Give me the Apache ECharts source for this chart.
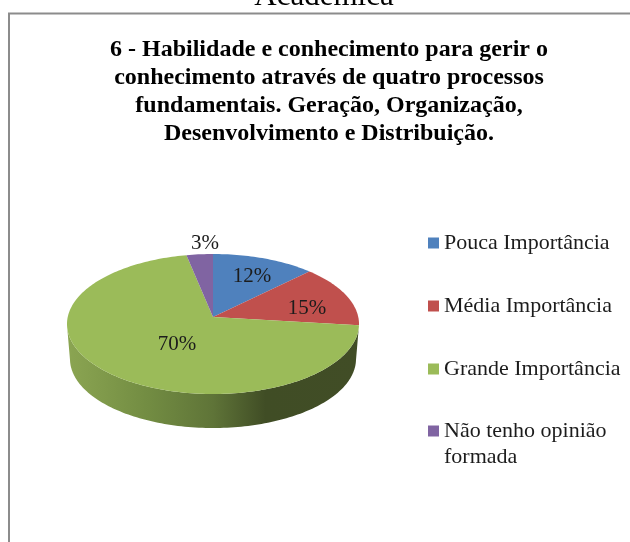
<!DOCTYPE html>
<html>
<head>
<meta charset="utf-8">
<style>html,body{margin:0;padding:0;background:#fff}#c{width:630px;height:542px}</style>
<script src="https://cdn.jsdelivr.net/npm/echarts@6/dist/echarts.min.js"></script>
</head>
<body>
<div id="c"></div>
<script>
const categories = ['Pouca Importância', 'Média Importância', 'Grande Importância', 'Não tenho opinião formada'];
const values = [12, 15, 70, 3];
const colors = ['#4f81bd', '#c0504d', '#9bbb59', '#8064a2'];
const titleLines = ['6 - Habilidade e conhecimento para gerir o', 'conhecimento através de quatro processos', 'fundamentais. Geração, Organização,', 'Desenvolvimento e Distribuição.'];
const clippedHeading = 'Acadêmica';

// Pie geometry (tilted disc)
const apex = { x: 213, y: 317 };
const topE = { cx: 213, cy: 324, rx: 146, ry: 70 };
const botE = { cx: 213, cy: 359, rx: 143, ry: 69 };
const aspect = 2.25;
const labelAnchors = [[252, 276], [307, 308], [177, 344], [205, 243]];
const sideDark = ['#2f4a6e', '#7a2f2d', '#4d5f2c', '#4b3a60'];

function rimPoint(theta) {
  // ray from the apex, hitting the top ellipse
  const dx = Math.sin(theta) * aspect, dy = -Math.cos(theta);
  const ox = apex.x - topE.cx, oy = apex.y - topE.cy;
  const a = dx * dx / (topE.rx * topE.rx) + dy * dy / (topE.ry * topE.ry);
  const b = 2 * (ox * dx / (topE.rx * topE.rx) + oy * dy / (topE.ry * topE.ry));
  const c = ox * ox / (topE.rx * topE.rx) + oy * oy / (topE.ry * topE.ry) - 1;
  const t = (-b + Math.sqrt(b * b - 4 * a * c)) / (2 * a);
  return [apex.x + t * dx, apex.y + t * dy];
}
function toBottom(p) {
  return [botE.cx + (p[0] - topE.cx) * botE.rx / topE.rx, botE.cy + (p[1] - topE.cy) * botE.ry / topE.ry];
}
const total = values.reduce((s, v) => s + v, 0);

function renderSlice(params) {
  const i = params.seriesIndex;
  let before = 0;
  for (let k = 0; k < i; k++) before += values[k];
  const start = before / total * Math.PI * 2;
  const end = (before + values[i]) / total * Math.PI * 2;
  const rim = [];
  const steps = Math.max(8, Math.ceil(values[i] * 3));
  for (let s = 0; s <= steps; s++) rim.push(rimPoint(start + (end - start) * s / steps));
  const children = [];
  const front = rim.filter(p => p[1] >= topE.cy);
  if (front.length > 1) {
    const isGreen = i === 2;
    children.push({
      type: 'polygon',
      shape: { points: front.concat(front.map(toBottom).reverse()) },
      style: {
        fill: isGreen ? {
          type: 'linear', global: true, x: topE.cx - topE.rx, y: 0, x2: topE.cx + topE.rx, y2: 0,
          colorStops: [
            { offset: 0, color: '#8ba552' }, { offset: 0.28, color: '#728c42' },
            { offset: 0.5, color: '#5f7438' }, { offset: 0.68, color: '#404d25' },
            { offset: 1, color: '#414d26' }
          ]
        } : sideDark[i]
      }
    });
  }
  children.push({
    type: 'polygon',
    shape: { points: [[apex.x, apex.y]].concat(rim) },
    style: { fill: colors[i] }
  });
  children.push({
    type: 'text',
    z2: 10,
    style: {
      text: Math.round(values[i] / total * 100) + '%',
      x: labelAnchors[i][0], y: labelAnchors[i][1],
      align: 'center', verticalAlign: 'middle',
      font: '21px "Liberation Serif"', fill: '#1c1c1c'
    }
  });
  return { type: 'group', children };
}

const legendText = { fontFamily: 'Liberation Serif', fontSize: 22, lineHeight: 26, color: '#1c1c1c' };
const chart = echarts.init(document.getElementById('c'), null, { renderer: 'canvas' });
chart.setOption({
  animation: false,
  backgroundColor: '#ffffff',
  title: {
    text: titleLines.join('\n'),
    left: 324, top: 31, textAlign: 'center',
    textStyle: { fontFamily: 'Liberation Serif', fontWeight: 'bold', fontSize: 24, lineHeight: 28, color: '#000' }
  },
  legend: [
    {
      orient: 'vertical',
      left: 428, top: 230, height: 200, width: 200,
      itemWidth: 11, itemHeight: 11, itemGap: 37, padding: 0, selectedMode: false,
      icon: 'rect',
      data: categories.slice(0, 3),
      textStyle: legendText
    },
    {
      orient: 'vertical',
      left: 428, top: 392, height: 100, width: 200,
      itemWidth: 11, itemHeight: 11, padding: 0, selectedMode: false,
      icon: 'rect',
      data: categories.slice(3),
      formatter: () => '\nNão tenho opinião\nformada',
      textStyle: legendText
    }
  ],
  graphic: [
    { type: 'line', shape: { x1: 9, y1: 13, x2: 9, y2: 542 }, style: { stroke: '#8c8c8c', lineWidth: 2 } },
    { type: 'line', shape: { x1: 8, y1: 13.5, x2: 630, y2: 13.5 }, style: { stroke: '#8c8c8c', lineWidth: 2 } },
    { type: 'text', x: 324, y: 12, style: { text: clippedHeading, align: 'center', verticalAlign: 'bottom', font: '31px "Liberation Serif"', fill: '#000' } }
  ],
  series: categories.map((name, i) => ({
    type: 'custom',
    name,
    coordinateSystem: 'none',
    itemStyle: { color: colors[i] },
    data: [[values[i]]],
    renderItem: renderSlice,
    silent: true
  }))
});
</script>
</body>
</html>
